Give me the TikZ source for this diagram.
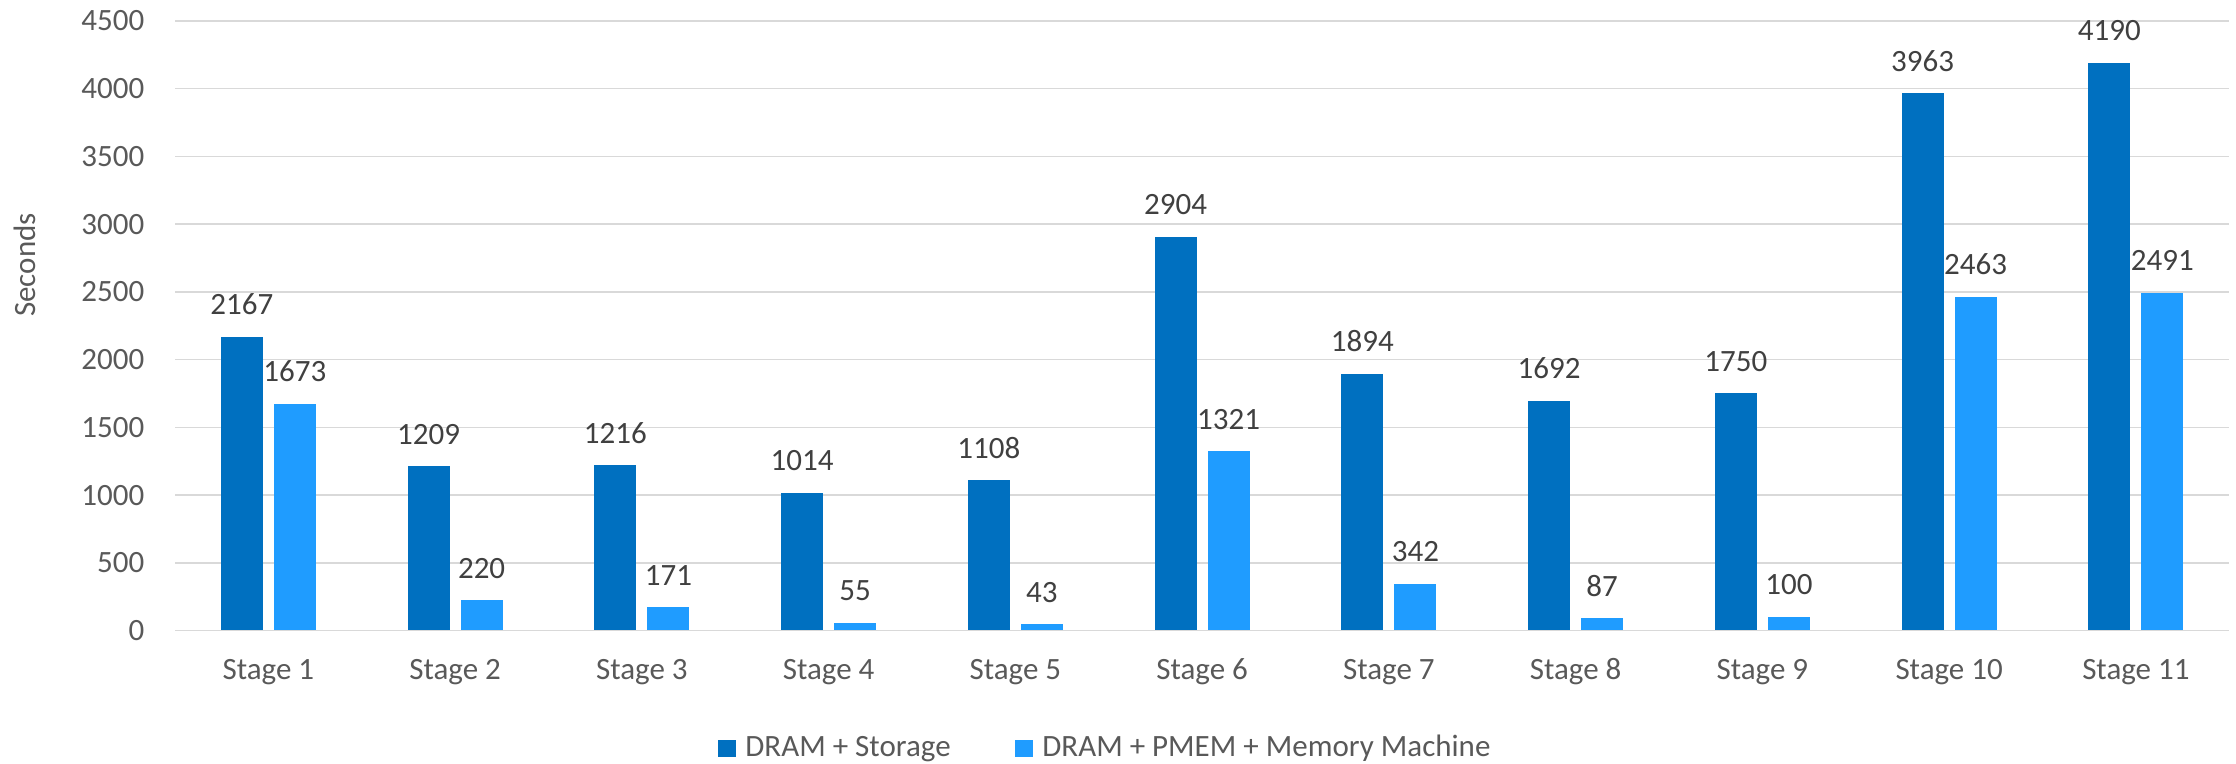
\documentclass[tikz,border=0pt]{standalone}
\usepackage{fontspec}
\setmainfont{Carlito}
\usepackage{tikz}
\usetikzlibrary{positioning}
\definecolor{storageBlue}{RGB}{0,112,192}
\definecolor{pmemBlue}{RGB}{31,156,255}
\definecolor{gridGray}{RGB}{217,217,217}
\definecolor{axisText}{RGB}{89,89,89}
\definecolor{valueText}{RGB}{64,64,64}

\begin{document}
\begin{tikzpicture}[x=0.5pt,y=0.5pt]

    \tikzstyle{commonText}=[font=\fontsize{15.5}{18}\selectfont, inner sep=0pt, text=axisText]
    \tikzstyle{tickLabel}=[commonText, left=15pt]
    \tikzstyle{stageLabel}=[commonText, anchor=base, yshift=-24.75pt]
    \tikzstyle{valueLabel}=[commonText, text=valueText]
    \tikzstyle{bar}=[rectangle, anchor=south, minimum width=21pt, inner sep=0pt]
    \tikzstyle{storageBar}=[bar, fill=storageBlue]
    \tikzstyle{pmemBar}=[bar, fill=pmemBlue]
    \tikzstyle{gridLine}=[draw=gridGray, line width=0.75pt]
    \tikzstyle{legendKey}=[rectangle, anchor=south west, minimum width=9pt, minimum height=8.5pt, inner sep=0pt]

    \useasboundingbox (0,0) rectangle (2236,764);

    \begin{scope}[shift={(175,133.5)}, y=0.06772pt]
        % Spacing the bars out
        \def \hspacing {186.75}
        \def \offset {26.5}
        \def \vscale {0.06772pt}
        \def \xend {2054.25}

        % Grid and ticks
        \draw [gridLine] (0,0) node [tickLabel] (t0) {0} -- (\xend,0);
        \draw [gridLine] (0,500) node [tickLabel] (t500) {500} -- (\xend,500);
        \draw [gridLine] (0,1000) node [tickLabel] (t1000) {1000} -- (\xend,1000);
        \draw [gridLine] (0,1500) node [tickLabel] (t1500) {1500} -- (\xend,1500);
        \draw [gridLine] (0,2000) node [tickLabel] (t2000) {2000} -- (\xend,2000);
        \draw [gridLine] (0,2500) node [tickLabel] (t2500) {2500} -- (\xend,2500);
        \draw [gridLine] (0,3000) node [tickLabel] (t3000) {3000} -- (\xend,3000);
        \draw [gridLine] (0,3500) node [tickLabel] (t3500) {3500} -- (\xend,3500);
        \draw [gridLine] (0,4000) node [tickLabel] (t4000) {4000} -- (\xend,4000);
        \draw [gridLine] (0,4500) node [tickLabel] (t4500) {4500} -- (\xend,4500);

        % Bars and values
        \node at (0.5*\hspacing-\offset, 0) [storageBar, minimum height=2167*\vscale] (s1) {};
        \node at (0.5*\hspacing+\offset, 0) [pmemBar, minimum height=1673*\vscale] (p1) {};
        \node [valueLabel, above=10.5pt of s1] (s1v) {2167};
        \node [valueLabel, above=10.5pt of p1] (p1v) {1673};

        \node at (1.5*\hspacing-\offset, 0) [storageBar, minimum height=1209*\vscale] (s2) {};
        \node at (1.5*\hspacing+\offset, 0) [pmemBar, minimum height=220*\vscale] (p2) {};
        \node [valueLabel, above=10.5pt of s2] (s2v) {1209};
        \node [valueLabel, above=10.5pt of p2] (p2v) {220};

        \node at (2.5*\hspacing-\offset, 0) [storageBar, minimum height=1216*\vscale] (s3) {};
        \node at (2.5*\hspacing+\offset, 0) [pmemBar, minimum height=171*\vscale] (p3) {};
        \node [valueLabel, above=10.5pt of s3] (s3v) {1216};
        \node [valueLabel, above=10.5pt of p3] (p3v) {171};

        \node at (3.5*\hspacing-\offset, 0) [storageBar, minimum height=1014*\vscale] (s4) {};
        \node at (3.5*\hspacing+\offset, 0) [pmemBar, minimum height=55*\vscale] (p4) {};
        \node [valueLabel, above=10.5pt of s4] (s4v) {1014};
        \node [valueLabel, above=10.5pt of p4] (p4v) {55};

        \node at (4.5*\hspacing-\offset, 0) [storageBar, minimum height=1108*\vscale] (s5) {};
        \node at (4.5*\hspacing+\offset, 0) [pmemBar, minimum height=43*\vscale] (p5) {};
        \node [valueLabel, above=10.5pt of s5] (s5v) {1108};
        \node [valueLabel, above=10.5pt of p5] (p5v) {43};

        \node at (5.5*\hspacing-\offset, 0) [storageBar, minimum height=2904*\vscale] (s6) {};
        \node at (5.5*\hspacing+\offset, 0) [pmemBar, minimum height=1321*\vscale] (p6) {};
        \node [valueLabel, above=10.5pt of s6] (s6v) {2904};
        \node [valueLabel, above=10.5pt of p6] (p6v) {1321};

        \node at (6.5*\hspacing-\offset, 0) [storageBar, minimum height=1894*\vscale] (s7) {};
        \node at (6.5*\hspacing+\offset, 0) [pmemBar, minimum height=342*\vscale] (p7) {};
        \node [valueLabel, above=10.5pt of s7] (s7v) {1894};
        \node [valueLabel, above=10.5pt of p7] (p7v) {342};

        \node at (7.5*\hspacing-\offset, 0) [storageBar, minimum height=1692*\vscale] (s8) {};
        \node at (7.5*\hspacing+\offset, 0) [pmemBar, minimum height=87*\vscale] (p8) {};
        \node [valueLabel, above=10.5pt of s8] (s8v) {1692};
        \node [valueLabel, above=10.5pt of p8] (p8v) {87};

        \node at (8.5*\hspacing-\offset, 0) [storageBar, minimum height=1750*\vscale] (s9) {};
        \node at (8.5*\hspacing+\offset, 0) [pmemBar, minimum height=100*\vscale] (p9) {};
        \node [valueLabel, above=10.5pt of s9] (s9v) {1750};
        \node [valueLabel, above=10.5pt of p9] (p9v) {100};

        \node at (9.5*\hspacing-\offset, 0) [storageBar, minimum height=3963*\vscale] (s10) {};
        \node at (9.5*\hspacing+\offset, 0) [pmemBar, minimum height=2463*\vscale] (p10) {};
        \node [valueLabel, above=10.5pt of s10] (s10v) {3963};
        \node [valueLabel, above=10.5pt of p10] (p10v) {2463};

        \node at (10.5*\hspacing-\offset, 0) [storageBar, minimum height=4190*\vscale] (s11) {};
        \node at (10.5*\hspacing+\offset, 0) [pmemBar, minimum height=2491*\vscale] (p11) {};
        \node [valueLabel, above=10.5pt of s11] (s11v) {4190};
        \node [valueLabel, above=10.5pt of p11] (p11v) {2491};

        % Stage names
        \node at (0.5*\hspacing, 0) [stageLabel] (stage1) {Stage 1};
        \node at (1.5*\hspacing, 0) [stageLabel] (stage2) {Stage 2};
        \node at (2.5*\hspacing, 0) [stageLabel] (stage3) {Stage 3};
        \node at (3.5*\hspacing, 0) [stageLabel] (stage4) {Stage 4};
        \node at (4.5*\hspacing, 0) [stageLabel] (stage5) {Stage 5};
        \node at (5.5*\hspacing, 0) [stageLabel] (stage6) {Stage 6};
        \node at (6.5*\hspacing, 0) [stageLabel] (stage7) {Stage 7};
        \node at (7.5*\hspacing, 0) [stageLabel] (stage8) {Stage 8};
        \node at (8.5*\hspacing, 0) [stageLabel] (stage9) {Stage 9};
        \node at (9.5*\hspacing, 0) [stageLabel] (stage10) {Stage 10};
        \node at (10.5*\hspacing, 0) [stageLabel] (stage11) {Stage 11};
    \end{scope}

    % Axis title
    \node at (35,499) [commonText, rotate=90, anchor=base] (yTitle) {Seconds};

    % Legend
    \node at (718,7) [legendKey, fill=storageBlue] (key1) {};
    \node at (745,7) [commonText, anchor=base west] (leg1) {DRAM + Storage};
    \node at (1015,7) [legendKey, fill=pmemBlue] (key2) {};
    \node at (1042,7) [commonText, anchor=base west] (leg2) {DRAM + PMEM + Memory Machine};
\end{tikzpicture}
\end{document}
